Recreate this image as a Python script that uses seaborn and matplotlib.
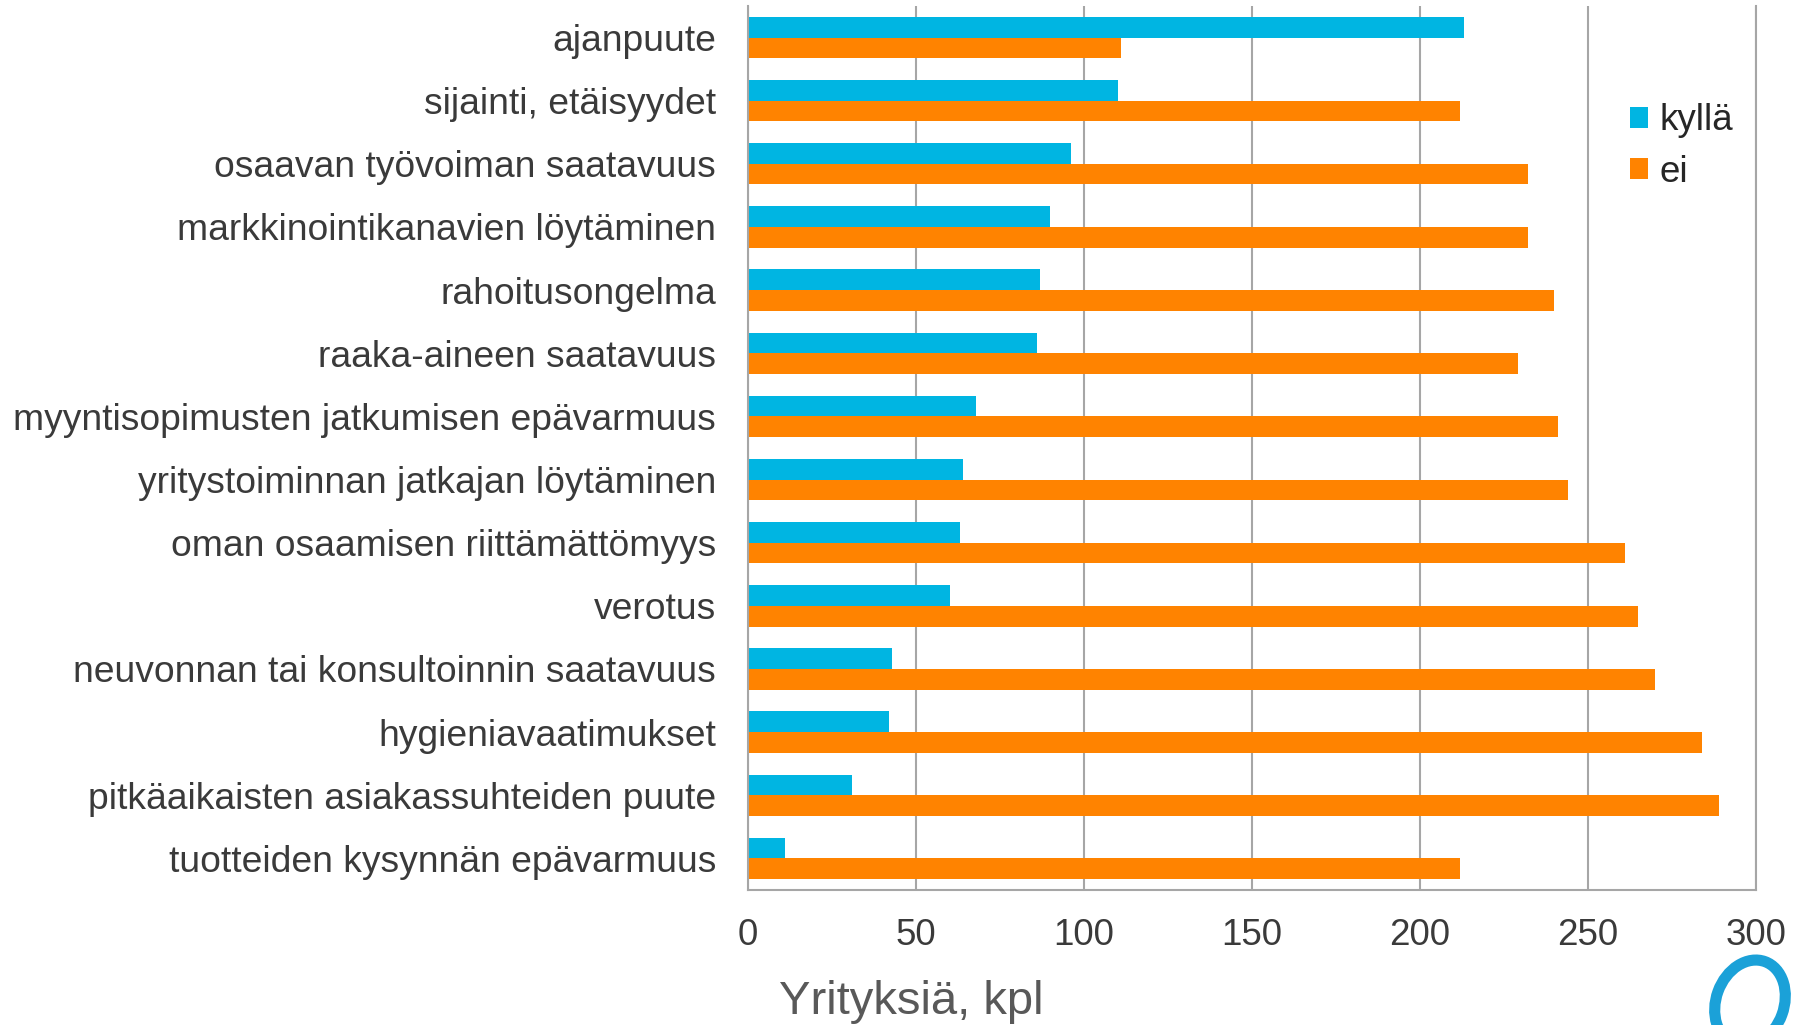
import matplotlib
matplotlib.use("Agg")
import matplotlib.pyplot as plt
from matplotlib.patches import Patch, Ellipse
import seaborn as sns
import pandas as pd

categories = [
    "ajanpuute",
    "sijainti, etäisyydet",
    "osaavan työvoiman saatavuus",
    "markkinointikanavien löytäminen",
    "rahoitusongelma",
    "raaka-aineen saatavuus",
    "myyntisopimusten jatkumisen epävarmuus",
    "yritystoiminnan jatkajan löytäminen",
    "oman osaamisen riittämättömyys",
    "verotus",
    "neuvonnan tai konsultoinnin saatavuus",
    "hygieniavaatimukset",
    "pitkäaikaisten asiakassuhteiden puute",
    "tuotteiden kysynnän epävarmuus",
]
kylla = [213, 110, 96, 90, 87, 86, 68, 64, 63, 60, 43, 42, 31, 11]
ei = [111, 212, 232, 232, 240, 229, 241, 244, 261, 265, 270, 284, 289, 212]
series_names = ["kyllä", "ei"]
x_ticks = [0, 50, 100, 150, 200, 250, 300]
x_label = "Yrityksiä, kpl"

BLUE = "#00B5E2"
ORANGE = "#FF8300"

df = pd.DataFrame({
    "kategoria": categories * 2,
    "vastaus": [series_names[0]] * len(categories) + [series_names[1]] * len(categories),
    "arvo": kylla + ei,
})

sns.set_theme(style="white")
plt.rcParams["font.family"] = ["Liberation Sans", "DejaVu Sans"]

fig = plt.figure(figsize=(18.05, 10.25), dpi=100)
ax = fig.add_axes([0.4144, 0.1317, 0.5585, 0.8625])

sns.barplot(data=df, y="kategoria", x="arvo", hue="vastaus",
            hue_order=series_names, order=categories,
            palette=[BLUE, ORANGE], orient="h", width=0.655,
            dodge=True, gap=0, saturation=1, legend=False, ax=ax,
            errorbar=None, linewidth=0, edgecolor="none")

ax.set_xlim(0, 300)
ax.set_ylim(len(categories) - 0.5, -0.5)
ax.set_xticks(x_ticks)
ax.set_xticklabels([str(t) for t in x_ticks])
ax.set_axisbelow(True)
ax.grid(axis="x", color="#A6A6A6", linewidth=1.5)
ax.grid(axis="y", visible=False)

for side in ["left", "bottom", "right"]:
    ax.spines[side].set_visible(True)
    ax.spines[side].set_color("#A6A6A6")
    ax.spines[side].set_linewidth(1.5)
ax.spines["top"].set_visible(False)

ax.tick_params(axis="y", length=0, pad=23, labelsize=26.8, labelcolor="#3A3A3A")
ax.tick_params(axis="x", length=0, pad=20, labelsize=26.5, labelcolor="#3A3A3A")
ax.set_ylabel("")
ax.set_xlabel(x_label, fontsize=34, color="#595959")
ax.xaxis.set_label_coords(0.162, -0.102)

handles = [Patch(facecolor=BLUE, edgecolor="none"), Patch(facecolor=ORANGE, edgecolor="none")]
fig.legend(handles, series_names, loc="center left", bbox_to_anchor=(0.903, 0.857),
           frameon=False, fontsize=26.5, handlelength=0.5, handleheight=0.5,
           handletextpad=0.3, labelspacing=0.45, borderpad=0, borderaxespad=0,
           labelcolor="#262626")

# logo decoration (bottom-right), drawn in inch units so it keeps its shape
logo = Ellipse((17.5, 0.22), width=0.68, height=0.88, angle=-20,
               transform=fig.dpi_scale_trans, facecolor="none", edgecolor="#1BA1D8",
               linewidth=8, clip_on=False)
fig.add_artist(logo)

fig.savefig("out.png", dpi=100)
